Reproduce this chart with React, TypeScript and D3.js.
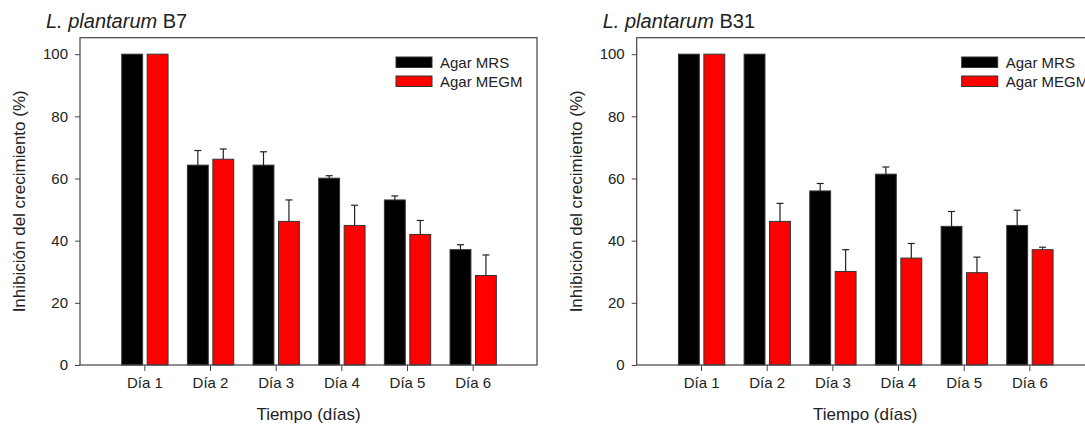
import React, { useEffect, useRef } from "react";
import * as d3 from "d3";

// categorias y valores
const dias = ["Día 1", "Día 2", "Día 3", "Día 4", "Día 5", "Día 6"];
const seriesNames = ["Agar MRS", "Agar MEGM"];
const yTicks = [0, 20, 40, 60, 80, 100];

const b7MRS = [100, 64.3, 64.3, 60.1, 53.1, 37.1];
const b7MRSErr = [0, 4.7, 4.3, 0.8, 1.3, 1.6];
const b7MEGM = [100, 66.2, 46.2, 44.9, 42.0, 28.8];
const b7MEGMErr = [0, 3.3, 6.9, 6.5, 4.5, 6.6];

const b31MRS = [100, 100, 56.0, 61.4, 44.6, 44.9];
const b31MRSErr = [0, 0, 2.4, 2.3, 4.8, 4.9];
const b31MEGM = [100, 46.2, 30.1, 34.4, 29.7, 37.1];
const b31MEGMErr = [0, 5.8, 7.0, 4.7, 5.0, 0.8];

const colors = ["#000000", "#ff0000"];
const font = "'Liberation Sans', Arial, sans-serif";

type PanelProps = {
  left: number;
  cepa: string;
  mrs: number[];
  mrsErr: number[];
  megm: number[];
  megmErr: number[];
  legendX: number;
};

function Panel(props: PanelProps) {
  const ref = useRef<SVGGElement>(null);

  useEffect(() => {
    const width = 457;
    const top = 37.7;
    const bottom = 365;

    const g = d3.select(ref.current);
    g.selectAll("*").remove();

    const x = d3.scalePoint<string>().domain(dias).range([0, width]).padding(0.98);
    const inner = d3.scaleBand<number>().domain([0, 1]).range([-22.6, 23.7]).paddingInner(0.18);
    const y = d3.scaleLinear().domain([0, 105.3]).range([bottom, top]);

    const rows = dias.map((d, i) => ({
      dia: d,
      vals: [
        { s: 0, v: props.mrs[i], e: props.mrsErr[i] },
        { s: 1, v: props.megm[i], e: props.megmErr[i] },
      ],
    }));

    // barras
    const grp = g.selectAll("g.dia").data(rows).enter().append("g")
      .attr("class", "dia")
      .attr("transform", (d) => "translate(" + x(d.dia) + ",0)");

    grp.selectAll("rect").data((d) => d.vals).enter().append("rect")
      .attr("x", (d) => inner(d.s)!)
      .attr("width", inner.bandwidth())
      .attr("y", (d) => y(d.v))
      .attr("height", (d) => y(0) - y(d.v))
      .attr("fill", (d) => colors[d.s])
      .attr("stroke", "#333")
      .attr("stroke-width", 1);

    // barras de error (solo hacia arriba)
    const err = grp.selectAll("g.err").data((d) => d.vals.filter((v) => v.e > 0)).enter().append("g")
      .attr("class", "err")
      .attr("stroke", "#222")
      .attr("stroke-width", 1.2);
    err.append("line")
      .attr("x1", (d) => inner(d.s)! + inner.bandwidth() / 2)
      .attr("x2", (d) => inner(d.s)! + inner.bandwidth() / 2)
      .attr("y1", (d) => y(d.v))
      .attr("y2", (d) => y(d.v + d.e));
    err.append("line")
      .attr("x1", (d) => inner(d.s)! + inner.bandwidth() / 2 - 3.5)
      .attr("x2", (d) => inner(d.s)! + inner.bandwidth() / 2 + 3.5)
      .attr("y1", (d) => y(d.v + d.e))
      .attr("y2", (d) => y(d.v + d.e));

    // marco
    g.append("rect")
      .attr("x", 0).attr("y", top)
      .attr("width", width).attr("height", bottom - top)
      .attr("fill", "none")
      .attr("stroke", "#444")
      .attr("stroke-width", 1.2);

    // eje Y
    const yAxis = g.append("g").call(d3.axisLeft(y).tickValues(yTicks).tickSize(5).tickPadding(7));
    yAxis.select(".domain").remove();
    yAxis.selectAll("line").attr("stroke", "#444");
    yAxis.selectAll("text").attr("font-family", font).attr("font-size", 15).attr("fill", "#222");

    // eje X
    const xAxis = g.append("g").attr("transform", "translate(0," + bottom + ")")
      .call(d3.axisBottom(x).tickSize(6).tickPadding(6));
    xAxis.select(".domain").remove();
    xAxis.selectAll("line").attr("stroke", "#444");
    xAxis.selectAll("text").attr("font-family", font).attr("font-size", 15).attr("fill", "#222");

    // titulos de ejes
    g.append("text")
      .attr("x", width / 2).attr("y", 420)
      .attr("text-anchor", "middle")
      .attr("font-family", font).attr("font-size", 17).attr("fill", "#222")
      .text("Tiempo (días)");

    g.append("text")
      .attr("transform", "translate(-55," + (top + bottom) / 2 + ") rotate(-90)")
      .attr("text-anchor", "middle")
      .attr("font-family", font).attr("font-size", 17).attr("fill", "#222")
      .text("Inhibición del crecimiento (%)");

    // titulo
    const t = g.append("text")
      .attr("x", -34).attr("y", 28)
      .attr("font-family", font).attr("font-size", 20).attr("fill", "#222");
    t.append("tspan").attr("font-style", "italic").text("L. plantarum");
    t.append("tspan").text(" " + props.cepa);

    // leyenda
    const leg = g.append("g").attr("transform", "translate(" + props.legendX + ",57)");
    const item = leg.selectAll("g").data(seriesNames).enter().append("g")
      .attr("transform", (d, i) => "translate(0," + i * 19 + ")");
    item.append("rect")
      .attr("width", 36).attr("height", 10.5)
      .attr("fill", (d, i) => colors[i])
      .attr("stroke", "#333");
    item.append("text")
      .attr("x", 44).attr("y", 10.5)
      .attr("font-family", font).attr("font-size", 15).attr("fill", "#222")
      .text((d) => d);
  }, [props]);

  return <g ref={ref} transform={"translate(" + props.left + ",0)"} />;
}

export default function App() {
  return (
    <svg width={1085} height={425} style={{ position: "absolute", left: 0, top: 0, background: "#fff" }}>
      <Panel left={80} cepa="B7" mrs={b7MRS} mrsErr={b7MRSErr} megm={b7MEGM} megmErr={b7MEGMErr} legendX={316} />
      <Panel left={636.7} cepa="B31" mrs={b31MRS} mrsErr={b31MRSErr} megm={b31MEGM} megmErr={b31MEGMErr} legendX={325} />
    </svg>
  );
}
